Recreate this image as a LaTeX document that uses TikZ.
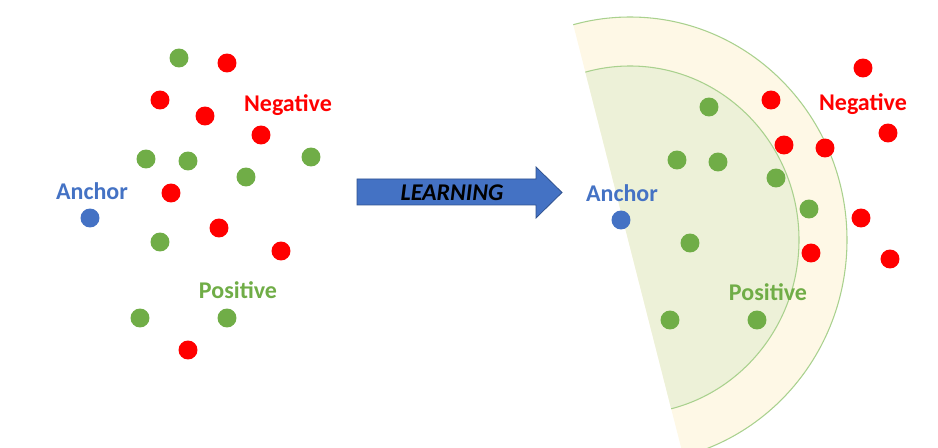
\documentclass[tikz,border=0pt]{standalone}
\usepackage{fontspec}
\setmainfont{Carlito}
\definecolor{posgreen}{HTML}{70AD47}
\definecolor{negred}{HTML}{FF0000}
\definecolor{ancblue}{HTML}{4472C4}
\definecolor{arrowedge}{HTML}{2F528F}
\definecolor{ringfill}{HTML}{FEF8E6}
\definecolor{corefill}{HTML}{EDF1D8}
\definecolor{ringline}{HTML}{A9D18E}
\begin{document}
\begin{tikzpicture}[x=0.75pt,y=-0.75pt,
  dotshape/.style={circle,inner sep=0pt,minimum size=14.2pt},
  posdot/.style={dotshape,fill=posgreen},
  negdot/.style={dotshape,fill=negred},
  ancdot/.style={dotshape,fill=ancblue},
  lbl/.style={font=\fontsize{18}{20}\selectfont\bfseries,inner sep=0pt}]
\useasboundingbox (0,0) rectangle (938,448);

% half-disc regions (cut by the straight edge through the centre)
\begin{scope}
  \clip (554.2,-50) -- (707.2,550) -- (1000,550) -- (1000,-50) -- cycle;
  \fill[ringfill] (630,240) ellipse [x radius=217, y radius=223];
  \fill[corefill] (630,240) ellipse [x radius=169, y radius=174];
  \draw[ringline,line width=0.8pt] (630,240) ellipse [x radius=217, y radius=223];
  \draw[ringline,line width=0.8pt] (630,240) ellipse [x radius=169, y radius=174];
\end{scope}

% learning arrow
\filldraw[fill=ancblue,draw=arrowedge,line width=0.6pt]
  (357,179) -- (536,179) -- (536,167) -- (562,192.5) -- (536,218) -- (536,205) -- (357,205) -- cycle;
\node[lbl,font=\fontsize{18}{20}\selectfont\bfseries\itshape] (learn) at (452,193) {LEARNING};

% before learning
\node[posdot] (l1) at (179,58) {};
\node[negdot] (l2) at (227,63) {};
\node[negdot] (l3) at (160,100) {};
\node[negdot] (l4) at (205,116) {};
\node[negdot] (l5) at (261,135) {};
\node[posdot] (l6) at (146,159) {};
\node[posdot] (l7) at (188,161) {};
\node[posdot] (l8) at (311,157) {};
\node[posdot] (l9) at (246,177) {};
\node[negdot] (l10) at (171,193) {};
\node[ancdot] (la) at (90,218) {};
\node[negdot] (l11) at (219,228) {};
\node[posdot] (l12) at (160,242) {};
\node[negdot] (l13) at (281,251) {};
\node[posdot] (l14) at (140,318) {};
\node[posdot] (l15) at (227,318) {};
\node[negdot] (l16) at (188,350) {};
\node[lbl,text=negred] (lneg) at (288,105) {Negative};
\node[lbl,text=ancblue] (lanc) at (92,191) {Anchor};
\node[lbl,text=posgreen] (lpos) at (238,290) {Positive};

% after learning
\node[posdot] (r1) at (709,107) {};
\node[negdot] (r2) at (771,100) {};
\node[negdot] (r3) at (863,68) {};
\node[negdot] (r4) at (888,133) {};
\node[negdot] (r5) at (784,145) {};
\node[negdot] (r6) at (825,148) {};
\node[posdot] (r7) at (677,160) {};
\node[posdot] (r8) at (718,162) {};
\node[posdot] (r9) at (776,178) {};
\node[ancdot] (ra) at (621,220) {};
\node[posdot] (r10) at (809,209) {};
\node[negdot] (r11) at (861,218) {};
\node[posdot] (r12) at (690,243) {};
\node[negdot] (r13) at (811,253) {};
\node[negdot] (r14) at (890,259) {};
\node[posdot] (r15) at (670,320) {};
\node[posdot] (r16) at (757,320) {};
\node[lbl,text=negred] (rneg) at (863,104) {Negative};
\node[lbl,text=ancblue] (ranc) at (622,193) {Anchor};
\node[lbl,text=posgreen] (rpos) at (768,292) {Positive};
\end{tikzpicture}
\end{document}
